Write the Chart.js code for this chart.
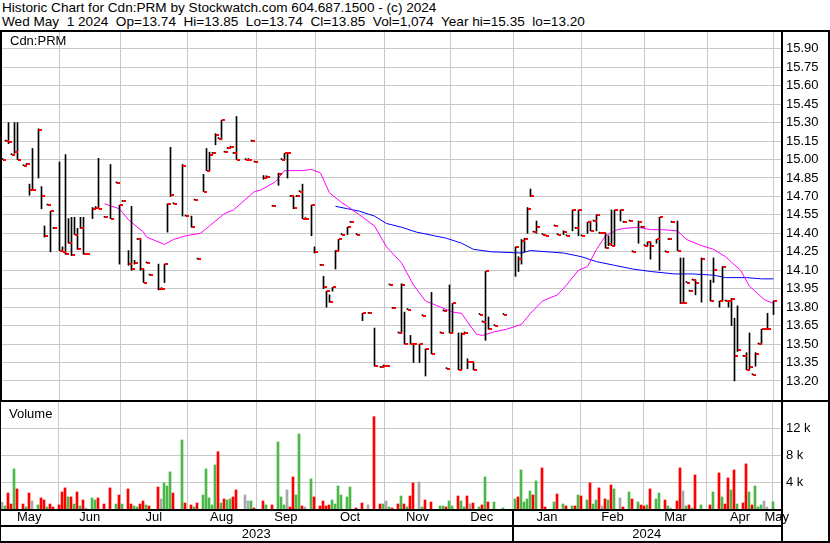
<!DOCTYPE html>
<html lang="en">
<head>
<meta charset="utf-8">
<title>Cdn:PRM historic chart</title>
<script src="https://cdn.jsdelivr.net/npm/chart.js@4.4.1/dist/chart.umd.min.js"></script>
<style>
  body { margin: 0; background: #fff; }
  #chart { position: relative; width: 830px; height: 543px; overflow: hidden; background: #fff;
           font-family: "Liberation Sans", Arial, sans-serif; color: #000; }
  #chart canvas { position: absolute; left: 0; }
  .head { position: absolute; left: 2px; font-size: 13.6px; line-height: 14px; white-space: pre; }
  .tag { position: absolute; font-size: 13px; line-height: 13px; }
  .rule { position: absolute; background: #000; }
</style>
</head>
<body>
<div id="chart">
  <div class="head" style="top:1px">Historic Chart for Cdn:PRM by Stockwatch.com 604.687.1500 - (c) 2024</div>
  <div class="head" style="top:15px">Wed May  1 2024  Op=13.74  Hi=13.85  Lo=13.74  Cl=13.85  Vol=1,074  Year hi=15.35  lo=13.20</div>
  <canvas id="priceChart" width="830" height="368" style="top:32px"></canvas>
  <canvas id="volumeChart" width="830" height="141" style="top:402px"></canvas>
  <div class="tag" style="left:10px;top:34px">Cdn:PRM</div>
  <div class="tag" style="left:9px;top:407px">Volume</div>
  <!-- frame -->
  <div class="rule" style="left:0;top:30px;width:830px;height:2px"></div>
  <div class="rule" style="left:0;top:30px;width:2px;height:372px"></div>
  <div class="rule" style="left:0;top:402px;width:1px;height:141px"></div>
  <div class="rule" style="left:781px;top:30px;width:2px;height:513px"></div>
  <div class="rule" style="left:828px;top:30px;width:2px;height:513px"></div>
  <div class="rule" style="left:0;top:400px;width:830px;height:2px"></div>
  <div class="rule" style="left:0;top:509px;width:783px;height:2px"></div>
  <div class="rule" style="left:0;top:525px;width:783px;height:2px"></div>
  <div class="rule" style="left:0;top:541px;width:830px;height:2px"></div>
</div>
<script>
// Cdn:PRM - one slot per trading day, May 2023 .. May 1 2024 (days with no trade are skipped)
const slots = [
  0, 1, 2, 3, 4, 5, 7, 8, 9, 10,
  12, 13, 14, 15, 16, 17, 19, 20, 21, 22,
  23, 24, 25, 26, 27, 28, 30, 31, 32, 34,
  36, 38, 39, 40, 42, 43, 44, 45, 46, 47,
  48, 49, 52, 53, 54, 55, 56, 57, 60, 61,
  63, 64, 65, 67, 68, 69, 70, 71, 72, 73,
  74, 75, 76, 77, 78, 81, 82, 83, 84, 87,
  88, 90, 92, 93, 94, 95, 96, 97, 98, 99,
  100, 101, 103, 104, 106, 107, 108, 109, 110, 111,
  112, 113, 115, 116, 118, 120, 122, 124, 126, 127,
  128, 129, 130, 132, 133, 134, 135, 136, 137, 139,
  140, 141, 143, 146, 147, 148, 149, 150, 152, 153,
  154, 155, 156, 157, 159, 160, 161, 162, 164, 167,
  171, 172, 173, 174, 175, 176, 177, 178, 180, 181,
  184, 185, 187, 188, 190, 191, 192, 193, 195, 196,
  197, 198, 199, 200, 201, 202, 203, 204, 206, 207,
  209, 210, 212, 213, 214, 215, 216, 218, 219, 221,
  222, 223, 225, 226, 227, 228, 229, 230, 231, 233,
  236, 237, 239, 240, 241, 242, 243, 244, 245, 247,
  248, 249, 250, 251, 252, 253, 254, 255, 257
];
const highs = [
  15.00, 15.15, 15.30, 15.04, 15.30, 15.30, 14.95, 14.96, 14.80, 15.09,
  15.25, 14.78, 14.46, 14.63, 14.58, 14.44, 14.98, 14.29, 15.04, 14.52,
  14.53, 14.53, 14.44, 14.53, 14.53, 14.23, 14.61, 14.61, 15.01, 14.53,
  14.96, 14.81, 14.63, 14.66, 14.26, 14.62, 14.18, 14.35, 14.36, 14.11,
  14.16, 14.06, 14.15, 13.95, 14.15, 14.64, 15.10, 14.64, 14.96, 14.54,
  14.54, 14.67, 14.19, 14.88, 15.09, 15.06, 15.05, 15.21, 15.17, 15.32,
  15.06, 15.09, 15.10, 15.05, 15.35, 15.00, 15.00, 15.15, 14.98, 14.87,
  14.86, 14.62, 14.89, 15.00, 15.05, 15.05, 14.70, 14.70, 14.70, 14.74,
  14.80, 14.52, 14.63, 14.29, 14.14, 14.05, 13.93, 13.90, 13.96, 14.26,
  14.35, 14.39, 14.45, 14.49, 14.39, 13.75, 13.75, 13.63, 13.31, 13.33,
  13.32, 13.98, 13.79, 13.59, 13.99, 13.76, 13.78, 13.57, 13.50, 13.50,
  13.73, 13.46, 13.92, 13.59, 13.77, 13.30, 13.98, 13.83, 13.59, 13.59,
  13.59, 13.38, 13.35, 13.35, 13.74, 13.68, 14.09, 13.72, 13.65, 13.74,
  14.29, 14.21, 14.35, 14.36, 14.61, 14.76, 14.41, 14.50, 14.39, 14.38,
  14.46, 14.39, 14.42, 14.38, 14.59, 14.44, 14.59, 14.38, 14.49, 14.50,
  14.50, 14.55, 14.41, 14.40, 14.40, 14.38, 14.59, 14.59, 14.59, 14.49,
  14.50, 14.25, 14.50, 14.45, 14.30, 14.33, 14.33, 14.35, 14.53, 14.25,
  14.35, 14.49, 14.50, 14.20, 14.20, 14.00, 13.93, 14.02, 14.02, 14.20,
  14.02, 14.20, 13.85, 14.13, 13.85, 13.85, 13.87, 13.71, 13.81, 13.40,
  13.43, 13.59, 13.25, 13.43, 13.50, 13.62, 13.62, 13.75, 13.85
];
const lows = [
  15.00, 15.15, 15.13, 15.04, 15.05, 15.00, 14.95, 14.96, 14.71, 14.75,
  14.85, 14.60, 14.37, 14.63, 14.25, 14.44, 14.26, 14.25, 14.23, 14.32,
  14.22, 14.39, 14.27, 14.44, 14.23, 14.23, 14.52, 14.61, 14.60, 14.53,
  14.52, 14.81, 14.15, 14.66, 14.14, 14.10, 14.15, 14.35, 14.10, 14.00,
  14.16, 14.06, 13.94, 13.95, 14.00, 14.41, 14.70, 14.64, 14.54, 14.54,
  14.45, 14.67, 14.19, 14.74, 14.91, 14.91, 15.05, 15.12, 15.17, 15.16,
  15.06, 15.09, 15.10, 15.05, 15.00, 15.00, 15.00, 15.15, 14.98, 14.84,
  14.86, 14.62, 14.79, 15.00, 15.00, 14.85, 14.70, 14.60, 14.70, 14.74,
  14.52, 14.52, 14.38, 14.24, 14.14, 13.95, 13.80, 13.84, 13.93, 14.11,
  14.26, 14.39, 14.39, 14.49, 14.39, 13.69, 13.75, 13.32, 13.31, 13.31,
  13.32, 13.98, 13.79, 13.59, 13.59, 13.50, 13.78, 13.50, 13.35, 13.35,
  13.73, 13.24, 13.42, 13.59, 13.77, 13.30, 13.59, 13.59, 13.29, 13.29,
  13.59, 13.30, 13.35, 13.29, 13.74, 13.68, 13.53, 13.62, 13.65, 13.74,
  14.05, 14.09, 14.15, 14.25, 14.40, 14.70, 14.41, 14.40, 14.39, 14.38,
  14.46, 14.39, 14.39, 14.38, 14.42, 14.44, 14.38, 14.38, 14.40, 14.42,
  14.50, 14.42, 14.40, 14.40, 14.28, 14.30, 14.30, 14.30, 14.50, 14.49,
  14.50, 14.25, 14.32, 14.45, 14.30, 14.30, 14.19, 14.32, 14.10, 14.25,
  14.35, 14.49, 14.26, 13.83, 13.83, 14.00, 13.93, 14.02, 13.90, 13.84,
  13.85, 14.00, 13.80, 13.85, 13.85, 13.80, 13.65, 13.20, 13.44, 13.40,
  13.29, 13.30, 13.25, 13.32, 13.50, 13.50, 13.62, 13.62, 13.74
];
const closes = [
  15.00, 15.15, 15.14, 15.04, 15.06, 15.00, 14.95, 14.96, 14.75, 14.75,
  15.24, 14.70, 14.38, 14.63, 14.58, 14.44, 14.26, 14.25, 14.23, 14.32,
  14.22, 14.39, 14.27, 14.44, 14.23, 14.23, 14.60, 14.61, 14.60, 14.53,
  14.52, 14.81, 14.63, 14.66, 14.15, 14.11, 14.16, 14.35, 14.11, 14.00,
  14.16, 14.06, 13.95, 13.95, 14.15, 14.64, 14.71, 14.64, 14.95, 14.54,
  14.45, 14.67, 14.19, 14.74, 14.91, 15.04, 15.05, 15.20, 15.17, 15.32,
  15.06, 15.09, 15.10, 15.05, 15.00, 15.00, 15.00, 15.15, 14.98, 14.85,
  14.86, 14.62, 14.88, 15.00, 15.05, 15.05, 14.70, 14.61, 14.70, 14.74,
  14.52, 14.52, 14.63, 14.25, 14.14, 13.96, 13.93, 13.84, 13.96, 14.26,
  14.35, 14.39, 14.45, 14.49, 14.39, 13.75, 13.75, 13.32, 13.31, 13.32,
  13.32, 13.98, 13.79, 13.59, 13.98, 13.50, 13.78, 13.50, 13.50, 13.50,
  13.73, 13.46, 13.42, 13.59, 13.77, 13.30, 13.59, 13.83, 13.29, 13.58,
  13.59, 13.35, 13.35, 13.29, 13.74, 13.68, 14.09, 13.62, 13.65, 13.74,
  14.29, 14.19, 14.34, 14.35, 14.60, 14.70, 14.41, 14.45, 14.39, 14.38,
  14.46, 14.39, 14.41, 14.38, 14.59, 14.44, 14.59, 14.38, 14.49, 14.42,
  14.50, 14.55, 14.40, 14.40, 14.28, 14.31, 14.30, 14.59, 14.59, 14.49,
  14.50, 14.25, 14.49, 14.45, 14.30, 14.33, 14.30, 14.35, 14.53, 14.25,
  14.35, 14.49, 14.26, 13.83, 13.83, 14.00, 13.93, 14.02, 14.00, 14.19,
  13.85, 14.10, 13.85, 14.13, 13.85, 13.85, 13.87, 13.40, 13.45, 13.40,
  13.29, 13.31, 13.25, 13.42, 13.50, 13.62, 13.62, 13.62, 13.85
];
const volumes = [
  990, 450, 2380, 740, 5950, 2980, 740, 300, 2380, 1190,
  600, 1640, 1340, 300, 740, 300, 600, 2530, 3130, 1790,
  1790, 740, 2530, 450, 1340, 150, 1640, 1340, 1640, 740,
  3130, 740, 2080, 740, 2980, 740, 450, 300, 740, 1190,
  600, 450, 3270, 1490, 3870, 3420, 5510, 2380, 10260, 890,
  600, 300, 890, 2080, 5950, 1640, 600, 6550, 8520, 890,
  1490, 1340, 1490, 1790, 2830, 2080, 1190, 1190, 150, 1190,
  600, 600, 9960, 1790, 600, 2830, 300, 4760, 2080, 11150,
  450, 300, 4460, 1790, 450, 1190, 450, 600, 1340, 740,
  3420, 2080, 1790, 3270, 150, 890, 600, 13720, 740, 740,
  1190, 300, 150, 740, 1930, 740, 300, 1930, 3870, 4020,
  300, 1340, 1040, 450, 450, 300, 1190, 450, 1930, 1190,
  300, 1930, 740, 890, 300, 600, 4760, 1040, 1040, 150,
  1490, 1790, 5800, 1040, 1490, 2680, 2080, 4170, 6100, 300,
  1040, 2230, 740, 450, 450, 450, 2080, 1930, 1340, 3870,
  740, 1340, 3130, 450, 1490, 1340, 3570, 2980, 1640, 300,
  2530, 1490, 1040, 600, 450, 600, 2980, 1490, 2380, 1340,
  450, 150, 1190, 6100, 2680, 450, 600, 150, 5060, 600,
  600, 2530, 5360, 1790, 740, 4610, 2830, 5800, 740, 890,
  6700, 2530, 600, 3420, 300, 600, 1190, 300, 1074
];
// u = close up, d = close down, n = unchanged
const volDirs = [
  'n','u','d','d','u','d','d','u','d','n',
  'u','d','d','u','d','d','d','d','d','u',
  'd','u','d','u','d','n','u','u','d','d',
  'd','u','d','u','d','d','u','u','d','d',
  'u','d','d','n','u','u','u','d','u','d',
  'd','u','d','u','u','u','u','u','d','u',
  'd','u','u','d','d','n','n','u','d','d',
  'u','d','u','u','u','n','d','d','u','u',
  'd','n','u','d','d','d','d','d','u','u',
  'u','u','u','u','d','d','n','d','d','u',
  'n','u','d','d','u','d','u','d','d','n',
  'u','d','d','u','u','d','u','u','d','u',
  'u','d','n','d','u','d','u','d','u','u',
  'u','d','u','u','u','u','d','u','d','d',
  'u','d','u','d','u','d','u','d','u','d',
  'u','u','d','n','d','u','d','u','n','d',
  'u','d','u','d','d','u','d','u','u','d',
  'u','n','d','d','n','u','d','u','d','u',
  'd','u','d','u','d','d','u','d','u','d',
  'd','u','d','u','u','u','n','n','u'
];

// moving averages (magenta short, blue long)
const ma1Slots = [34, 39, 42, 47, 48, 54, 57, 61, 66, 69, 74, 77, 84, 86, 91, 94, 100, 103, 106, 109,
  113, 115, 119, 124, 128, 133, 137, 141, 146, 150, 153, 155, 158, 160, 164, 168, 173, 176, 180, 185,
  188, 192, 195, 198, 201, 205, 207, 212, 216, 220, 225, 228, 233, 237, 241, 246, 249, 254, 257];
const ma1Values = [14.64, 14.60, 14.51, 14.41, 14.37, 14.31, 14.35, 14.38, 14.40, 14.46, 14.56, 14.59, 14.74, 14.75, 14.82, 14.91, 14.91, 14.92, 14.89, 14.73,
  14.65, 14.62, 14.55, 14.46, 14.29, 14.16, 13.98, 13.85, 13.80, 13.76, 13.75, 13.68, 13.58, 13.57, 13.60, 13.62, 13.66, 13.75, 13.85, 13.90,
  13.98, 14.10, 14.13, 14.27, 14.38, 14.43, 14.44, 14.45, 14.43, 14.43, 14.42, 14.35, 14.30, 14.27, 14.21, 14.10, 13.97, 13.86, 13.83];
const ma2Slots = [111, 115, 119, 124, 128, 133, 138, 144, 148, 153, 157, 163, 173, 176, 187, 193, 198, 204, 210, 216,
  224, 230, 237, 241, 248, 253, 257];
const ma2Values = [14.62, 14.60, 14.58, 14.54, 14.48, 14.45, 14.41, 14.38, 14.36, 14.32, 14.27, 14.25, 14.24, 14.26, 14.24, 14.21, 14.17, 14.14, 14.11, 14.09,
  14.07, 14.07, 14.06, 14.04, 14.04, 14.03, 14.03];

// axes
const priceTicks = [15.90, 15.75, 15.60, 15.45, 15.30, 15.15, 15.00, 14.85, 14.70, 14.55,
  14.40, 14.25, 14.10, 13.95, 13.80, 13.65, 13.50, 13.35, 13.20];
const volumeTicks = [4000, 8000, 12000];
const monthNames = ['May', 'Jun', 'Jul', 'Aug', 'Sep', 'Oct', 'Nov', 'Dec', 'Jan', 'Feb', 'Mar', 'Apr', 'May'];
const monthStarts = [19, 39.5, 61.7, 84.7, 104.5, 127.5, 149.5, 170.3, 193, 214, 235, 257];
const yearNames = ['2023', '2024'];
const yearStart = 170.3;

const X_MIN = -0.8333, X_MAX = 259.5;
const VOL_SHIFT = 0.1667;          // volume bars sit half a pixel left of the price bars
const PRICE_MIN = 13.045, PRICE_MAX = 16.037;
const VOL_MAX = 15900;
const GRID = '#c8c8c8';
const DIR_COLORS = { u: '#4cb848', d: '#ff0000', n: '#a8a8a8' };

Chart.defaults.font.family = "'Liberation Sans', Arial, sans-serif";
Chart.defaults.font.size = 13;
Chart.defaults.color = '#000';

function fixedTicks(values) {
  return scale => { scale.ticks = values.map(v => ({ value: v })); };
}

function midpoints(edges) {
  const out = [];
  for (let i = 0; i < edges.length - 1; i++) out.push((edges[i] + edges[i + 1]) / 2);
  return out;
}

// keep the chart area exactly where the panel is: no label overhang padding
function noPadding(s) {
  s.paddingTop = 0; s.paddingBottom = 0; s.paddingLeft = 0; s.paddingRight = 0;
}

function gridAxis(shift) {
  return {
    type: 'linear', position: 'bottom', weight: 0,
    min: X_MIN + shift, max: X_MAX + shift, offset: false,
    afterBuildTicks: fixedTicks(monthStarts),
    afterFit: s => { s.height = 0; noPadding(s); },
    ticks: { display: false },
    grid: { color: GRID, offset: false, drawTicks: false },
    border: { display: false }
  };
}

function labelAxis(positions, names, height, padding, weight) {
  return {
    type: 'linear', position: 'bottom', weight,
    min: X_MIN + VOL_SHIFT, max: X_MAX + VOL_SHIFT, offset: false,
    afterBuildTicks: fixedTicks(positions),
    afterFit: s => { s.height = height; noPadding(s); },
    ticks: { autoSkip: false, maxRotation: 0, padding, callback: (v, i) => names[i] },
    grid: { display: false, offset: false, drawTicks: false },
    border: { display: false }
  };
}

function rightAxis(min, max, ticks, format) {
  return {
    type: 'linear', position: 'right', min, max, beginAtZero: false,
    afterBuildTicks: fixedTicks(ticks),
    afterFit: s => { s.width = 49; noPadding(s); },
    ticks: { padding: 5, callback: format },
    grid: { color: GRID, drawTicks: false },
    border: { display: false }
  };
}

const baseOptions = {
  responsive: false,
  animation: false,
  events: [],
  layout: { padding: 0, autoPadding: false },
  plugins: { legend: { display: false }, tooltip: { enabled: false } }
};

// red close tick, drawn just right of the high-low line
const closeTick = (() => {
  const c = document.createElement('canvas');
  c.width = 7; c.height = 2;
  const g = c.getContext('2d');
  g.fillStyle = '#ff0000';
  g.fillRect(4, 0, 3, 2);
  return c;
})();

function renderPriceChart() {
  const ctx = document.getElementById('priceChart').getContext('2d');
  new Chart(ctx, {
    type: 'bar',
    data: {
      datasets: [
        {
          type: 'scatter',
          data: slots.map((s, i) => ({ x: s, y: closes[i] })),
          pointStyle: closeTick,
          pointRadius: 3,
          order: 0
        },
        {
          type: 'bar',
          data: slots.map((s, i) => ({ x: s, y: [lows[i], highs[i]] })),
          backgroundColor: '#000',
          barThickness: 1,
          minBarLength: 1,
          order: 1
        },
        {
          type: 'line',
          data: ma1Slots.map((s, i) => ({ x: s, y: ma1Values[i] })),
          borderColor: '#ff00ff',
          borderWidth: 1,
          pointRadius: 0,
          tension: 0,
          order: 2
        },
        {
          type: 'line',
          data: ma2Slots.map((s, i) => ({ x: s, y: ma2Values[i] })),
          borderColor: '#0000ff',
          borderWidth: 1,
          pointRadius: 0,
          tension: 0,
          order: 3
        }
      ]
    },
    options: {
      ...baseOptions,
      scales: {
        x: gridAxis(0),
        y: rightAxis(PRICE_MIN, PRICE_MAX, priceTicks, v => v.toFixed(2))
      }
    }
  });
}

// black divider between the two years in the date rows
const yearDivider = {
  id: 'yearDivider',
  afterDraw(chart) {
    const { ctx, scales } = chart;
    const px = Math.round(scales.x.getPixelForValue(yearStart));
    ctx.save();
    ctx.fillStyle = '#000';
    ctx.fillRect(px - 1, scales.xm.top, 2, chart.height - scales.xm.top);
    ctx.restore();
  }
};

function renderVolumeChart() {
  const ctx = document.getElementById('volumeChart').getContext('2d');
  const monthPos = midpoints([X_MIN, ...monthStarts, X_MAX]);
  const yearPos = midpoints([X_MIN, yearStart, X_MAX]);

  new Chart(ctx, {
    type: 'bar',
    data: {
      datasets: [{
        data: slots.map((s, i) => ({ x: s, y: volumes[i] })),
        backgroundColor: volDirs.map(d => DIR_COLORS[d]),
        barThickness: 2
      }]
    },
    options: {
      ...baseOptions,
      scales: {
        x: gridAxis(VOL_SHIFT),
        xm: labelAxis(monthPos, monthNames, 16, 1, 1),
        xy: labelAxis(yearPos, yearNames, 18, 2, 2),
        y: rightAxis(0, VOL_MAX, volumeTicks, v => (v / 1000) + ' k')
      }
    },
    plugins: [yearDivider]
  });
}

renderPriceChart();
renderVolumeChart();
</script>
</body>
</html>
